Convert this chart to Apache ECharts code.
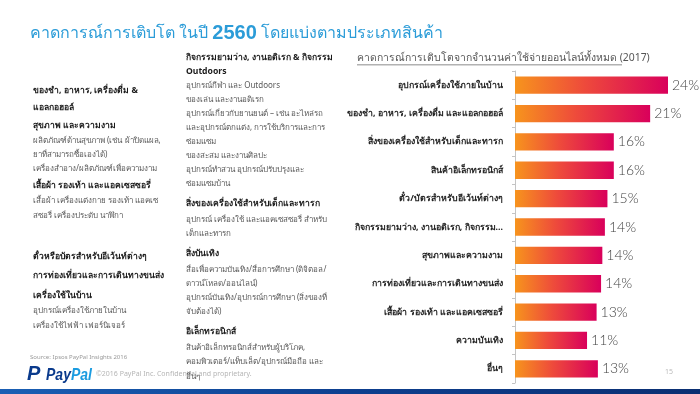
<!DOCTYPE html>
<html><head><meta charset="utf-8">
<script src="https://cdn.jsdelivr.net/npm/echarts@6/dist/echarts.min.js"></script>
<style>html,body{margin:0;padding:0;background:#fff}#c{width:700px;height:394px}</style>
</head><body><div id="c"></div>
<script>
const categories = [
  'อุปกรณ์เครื่องใช้ภายในบ้าน',
  'ของชำ, อาหาร, เครื่องดื่ม และแอลกอฮอล์',
  'สิ่งของเครื่องใช้สำหรับเด็กและทารก',
  'สินค้าอิเล็กทรอนิกส์',
  'ตั๋ว/บัตรสำหรับอีเว้นท์ต่างๆ',
  'กิจกรรมยามว่าง, งานอดิเรก, กิจกรรม...',
  'สุขภาพและความงาม',
  'การท่องเที่ยวและการเดินทางขนส่ง',
  'เสื้อผ้า รองเท้า และแอคเซสซอรี่',
  'ความบันเทิง',
  'อื่นๆ'
];
const growth = [24.0, 21.2, 15.5, 15.5, 14.5, 14.1, 13.7, 13.5, 12.8, 11.3, 13.0];

const mainTitle = ['คาดการณ์การเติบโต ในปี ', '2560', ' โดยแบ่งตามประเภทสินค้า'];
const chartTitle = 'คาดการณ์การเติบโตจากจำนวนค่าใช้จ่ายออนไลน์ทั้งหมด (2017)';

// left column notes: [text, bold, y]
const notesCol1 = [
  ['ของชำ, อาหาร, เครื่องดื่ม &', true, 91],
  ['แอลกอฮอล์', true, 108],
  ['สุขภาพ และความงาม', true, 126],
  ['ผลิตภัณฑ์ด้านสุขภาพ (เช่น ผ้าปิดแผล,', false, 141],
  ['ยาที่สามารถซื้อเองได้)', false, 155],
  ['เครื่องสำอาง/ผลิตภัณฑ์เพื่อความงาม', false, 169],
  ['เสื้อผ้า รองเท้า และแอคเซสซอรี่', true, 186],
  ['เสื้อผ้า เครื่องแต่งกาย รองเท้า แอคเซ', false, 201],
  ['สซอรี่ เครื่องประดับ นาฬิกา', false, 216],
  ['ตั๋วหรือบัตรสำหรับอีเว้นท์ต่างๆ', true, 257],
  ['การท่องเที่ยวและการเดินทางขนส่ง', true, 276],
  ['เครื่องใช้ในบ้าน', true, 296],
  ['อุปกรณ์เครื่องใช้ภายในบ้าน', false, 311],
  ['เครื่องใช้ไฟฟ้า เฟอร์นิเจอร์', false, 326]
];
const notesCol2 = [
  ['กิจกรรมยามว่าง, งานอดิเรก & กิจกรรม', true, 58],
  ['Outdoors', true, 72],
  ['อุปกรณ์กีฬา และ Outdoors', false, 86],
  ['ของเล่น และงานอดิเรก', false, 100],
  ['อุปกรณ์เกี่ยวกับยานยนต์ – เช่น อะไหล่รถ', false, 114],
  ['และอุปกรณ์ตกแต่ง, การใช้บริการและการ', false, 128],
  ['ซ่อมแซม', false, 142],
  ['ของสะสม และงานศิลปะ', false, 156],
  ['อุปกรณ์ทำสวน อุปกรณ์ปรับปรุงและ', false, 170],
  ['ซ่อมแซมบ้าน', false, 184],
  ['สิ่งของเครื่องใช้สำหรับเด็กและทารก', true, 204],
  ['อุปกรณ์ เครื่องใช้ และแอคเซสซอรี่ สำหรับ', false, 220],
  ['เด็กและทารก', false, 234],
  ['สิ่งบันเทิง', true, 254],
  ['สื่อเพื่อความบันเทิง/สื่อการศึกษา (ดิจิตอล/', false, 270],
  ['ดาวน์โหลด/ออนไลน์)', false, 284],
  ['อุปกรณ์บันเทิง/อุปกรณ์การศึกษา (สิ่งของที่', false, 298],
  ['จับต้องได้)', false, 312],
  ['อิเล็กทรอนิกส์', true, 332],
  ['สินค้าอิเล็กทรอนิกส์สำหรับผู้บริโภค,', false, 348],
  ['คอมพิวเตอร์/แท็บเล็ต/อุปกรณ์มือถือ และ', false, 362],
  ['อื่นๆ', false, 377]
];
const sourceText = 'Source: Ipsos PayPal Insights 2016';
const copyrightText = '©2016 PayPal Inc. Confidential and proprietary.';
const pageNo = '15';

const FONT = '"Noto Sans", "DejaVu Sans", sans-serif';

function noteElems(list, x) {
  return list.map(([t, b, y]) => ({
    type: 'text', x: x, y: y, z: 10,
    style: { text: t, fontFamily: FONT, fontSize: b ? 8.6 : 8, fontWeight: b ? 'bold' : 'normal',
      fill: b ? '#1a1a1a' : '#5a5a5a', align: 'left', verticalAlign: 'middle' }
  }));
}

const chart = echarts.init(document.getElementById('c'), null, { renderer: 'canvas' });
chart.setOption({
  animation: false,
  grid: { left: 515, top: 71, width: 178.5, height: 312, containLabel: false },
  xAxis: { type: 'value', min: 0, max: 28, show: false },
  yAxis: {
    type: 'category', data: categories, inverse: true,
    axisLine: { show: true, lineStyle: { color: '#c4c4c4', width: 1 } },
    axisTick: { show: true, length: 3, lineStyle: { color: '#c4c4c4' } },
    axisLabel: { margin: 12, color: '#222', fontFamily: FONT, fontSize: 8.8, fontWeight: 'bold' }
  },
  series: [{
    type: 'bar', data: growth, barCategoryGap: '39%',
    itemStyle: {
      color: new echarts.graphic.LinearGradient(0, 0, 1, 0, [
        { offset: 0, color: '#F7941D' }, { offset: 0.45, color: '#EE4B3B' }, { offset: 1, color: '#D9005B' }
      ])
    },
    label: {
      show: true, position: 'right', distance: 4, color: '#444',
      fontFamily: 'Lato, "Open Sans", sans-serif', fontWeight: 300, fontSize: 14,
      formatter: p => Math.round(p.value) + '%'
    }
  }],
  graphic: [
    { type: 'text', x: 30, y: 33, style: {
      text: '{a|' + mainTitle[0] + '}{b|' + mainTitle[1] + '}{a|' + mainTitle[2] + '}',
      align: 'left', verticalAlign: 'middle',
      rich: {
        a: { fontFamily: FONT, fontSize: 16, fill: '#2b9cd8', color: '#2b9cd8' },
        b: { fontFamily: 'Arial, "Liberation Sans", sans-serif', fontSize: 20, fontWeight: 'bold', fill: '#2b9cd8', color: '#2b9cd8' }
      } } },
    { type: 'text', x: 357, y: 58, style: { text: chartTitle, fontFamily: FONT, fontSize: 10.4, fill: '#555', align: 'left', verticalAlign: 'middle' } },
    { type: 'rect', x: 357, y: 64.5, shape: { width: 265, height: 0.8 }, style: { fill: '#666' } },
    ...noteElems(notesCol1, 33),
    ...noteElems(notesCol2, 186),
    { type: 'text', x: 30, y: 357, style: { text: sourceText, fontFamily: FONT, fontSize: 6, fill: '#999', align: 'left', verticalAlign: 'middle' } },
    { type: 'text', x: 27, y: 374, style: { text: 'P', fontFamily: 'Arial, sans-serif', fontSize: 20, fontWeight: 'bold', fontStyle: 'italic', fill: '#0a3a8c', align: 'left', verticalAlign: 'middle' } },
    { type: 'text', x: 46, y: 375, scaleX: 0.85, style: {
      text: '{w|Pay}{v|Pal}', align: 'left', verticalAlign: 'middle',
      rich: {
        w: { fontFamily: 'Arial, sans-serif', fontSize: 16.5, fontWeight: 'bold', fontStyle: 'italic', fill: '#0a3a8c', color: '#0a3a8c' },
        v: { fontFamily: 'Arial, sans-serif', fontSize: 16.5, fontWeight: 'bold', fontStyle: 'italic', fill: '#1a9be0', color: '#1a9be0' }
      } } },
    { type: 'text', x: 96, y: 374, style: { text: copyrightText, fontFamily: FONT, fontSize: 7, fill: '#b5b5b5', align: 'left', verticalAlign: 'middle' } },
    { type: 'text', x: 665, y: 372, style: { text: pageNo, fontFamily: FONT, fontSize: 7, fill: '#bbb', align: 'left', verticalAlign: 'middle' } },
    { type: 'rect', x: 0, y: 389, shape: { width: 700, height: 5 }, style: {
      fill: new echarts.graphic.LinearGradient(0, 0, 1, 0, [
        { offset: 0, color: '#1a5fb4' }, { offset: 0.5, color: '#0d3f8f' }, { offset: 1, color: '#0b2f72' }
      ]) } }
  ]
});
</script></body></html>
